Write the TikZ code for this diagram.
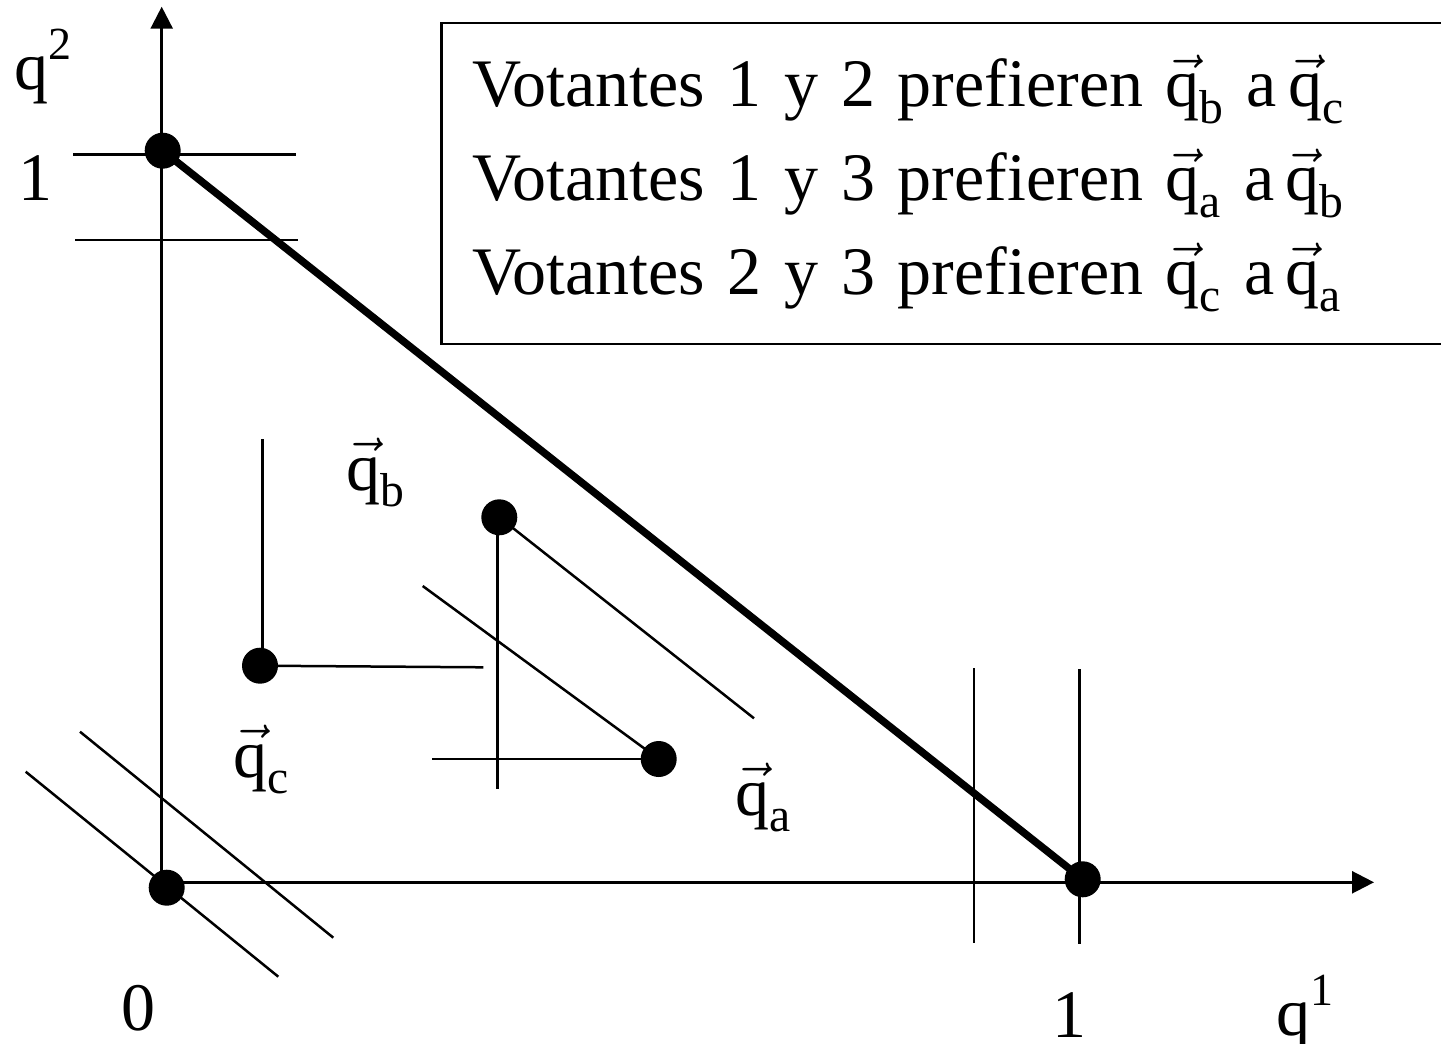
\RequirePackage{fix-cm}
\documentclass[tikz,border=0pt]{standalone}
\usepackage{amsmath}
\usepackage{fontspec}
\setmainfont{Liberation Serif}
\usetikzlibrary{arrows.meta}
\tikzset{
    vote diagram/.style = {x=1pt, y=-1pt,
                           >={Triangle[length=22pt, width=22pt]}},
    axis/.style         = {line width=2.5pt},
    guide/.style        = {line width=2.5pt},
    budget/.style       = {line width=7.5pt},
    point/.style        = {circle, fill, inner sep=0pt, minimum size=36pt},
    lbl/.style          = {font=\fontsize{68}{94}\selectfont, inner sep=0pt},
    legend/.style       = {lbl, draw, line width=2.5pt, anchor=north west,
                           minimum width=1012pt, minimum height=321pt,
                           inner xsep=31pt, text width=950pt, align=left}
}
\def\qv#1{${\vec{\text{q}}}_{\text{#1}}$}
\def\upidx#1{\raisebox{30pt}{\fontsize{46}{46}\selectfont #1}}

\begin{document}
\begin{tikzpicture}[vote diagram]
\useasboundingbox (0,0) rectangle (1441,1044);
\clip (0,0) rectangle (1441,1044);

% Axes and the budget line between the two corner allocations.
\coordinate (origin) at (161.7,882.3);
\coordinate (ytip) at (161.7,6.7);
\coordinate (xtip) at (1374,882.3);
\draw[->, axis] (origin) -- (ytip);
\draw[->, axis] (origin) -- (xtip);
\node[point] (zero) at (166.7,887.7) {};
\node[point] (ytop) at (162.7,150.7) {};
\node[point] (xone) at (1082.7,879.3) {};
\draw[budget] (ytop.center) -- (xone.center);

% Indifference lines of the corner voters.
\coordinate (h1a) at (73,154.3);   \coordinate (h1b) at (296,154.3);
\coordinate (h2a) at (75,240);     \coordinate (h2b) at (298,240);
\coordinate (v1a) at (974,668);    \coordinate (v1b) at (974,943);
\coordinate (v2a) at (1079.3,669); \coordinate (v2b) at (1079.3,944);
\coordinate (d1a) at (80,731.7);   \coordinate (d1b) at (333.3,937.7);
\coordinate (d2a) at (25.7,771.7); \coordinate (d2b) at (278.3,976.7);
\draw[guide] (h1a) -- (h1b);
\draw[guide] (h2a) -- (h2b);
\draw[guide] (v1a) -- (v1b);
\draw[guide] (v2a) -- (v2b);
\draw[guide] (d1a) -- (d1b);
\draw[guide] (d2a) -- (d2b);

% The three proposals and their indifference lines.
\node[point] (qb) at (499.3,517.3) {};
\node[point] (qc) at (260,665.7) {};
\node[point] (qa) at (658.7,759) {};
\coordinate (qctop) at (262.3,439);
\coordinate (qcend) at (483.3,667.3);
\coordinate (qbdown) at (497.7,789.3);
\coordinate (qbdiag) at (754,718.3);
\coordinate (mid) at (422.7,586);
\coordinate (qaend) at (431.7,759);
\draw[guide] (qc.center -| qctop) -- (qctop);
\draw[guide] (qc.center) -- (qcend);
\draw[guide] (qb.center -| qbdown) -- (qbdown);
\draw[guide] (qb.center) -- (qbdiag);
\draw[guide] (mid) -- (qa.center);
\draw[guide] (qa.center) -- (qaend);

% Axis labels and proposal names.
\node[lbl, anchor=base west] (q2) at (14,89) {q\upidx{2}};
\node[lbl, anchor=base] (yone) at (35,200) {1};
\node[lbl, anchor=base] (xzero) at (138,1030) {0};
\node[lbl, anchor=base] (xonel) at (1069,1037) {1};
\node[lbl, anchor=base west] (q1) at (1276,1035) {q\upidx{1}};
\node[lbl, anchor=base west] (lqb) at (346,490) {\qv{b}};
\node[lbl, anchor=base west] (lqc) at (233,777) {\qv{c}};
\node[lbl, anchor=base west] (lqa) at (735,815) {\qv{a}};

% Majority preferences, forming a cycle.
\node[legend] (cycle) at (440,21.7) {%
    Votantes 1 y 2 prefieren \qv{b} a\,\qv{c}\\
    Votantes 1 y 3 prefieren \qv{a} a\,\qv{b}\\
    Votantes 2 y 3 prefieren \qv{c} a\,\qv{a}};

\end{tikzpicture}
\end{document}
